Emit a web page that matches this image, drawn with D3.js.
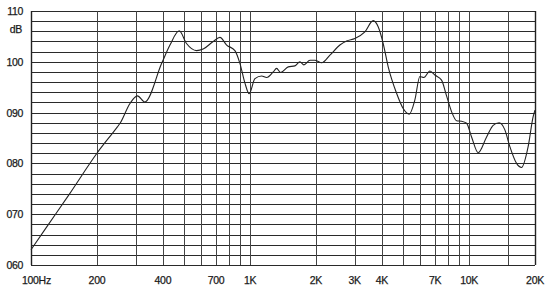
<!DOCTYPE html>
<html>
<head>
<meta charset="utf-8">
<style>
body { margin: 0; background: #fff; }
svg { display: block; }
.lbl { font-family: 'Liberation Sans', Arial, sans-serif; font-size: 10.5px; fill: #1a1a1a; stroke: #1a1a1a; stroke-width: 0.25px; letter-spacing: -0.3px; }
</style>
</head>
<body>
<svg width="550" height="291"></svg>
<script src="https://d3js.org/d3.v7.min.js"></script>
<script>

// ---------------------------------------------------------------
// DATA
// ---------------------------------------------------------------
var freq = [100, 118, 150, 200, 248, 255, 283, 306, 331, 395, 431, 475, 513,
            570, 611, 679, 729, 782, 853, 899, 948, 991, 1053, 1130, 1191, 1276,
            1322, 1380, 1494, 1603, 1690, 1762, 1877, 1977, 2123, 2316, 2572, 2760,
            3011, 3345, 3650, 3846, 4055, 4274, 4667, 5003, 5330, 5657, 5963, 6218,
            6622, 6981, 7489, 7894, 8317, 8770, 9243, 9741, 10267, 11003, 12024,
            12883, 13722, 14572, 15355, 16477, 17365, 18608, 19614, 20000];
var spl  = [63.0, 67.5, 74.0, 82.0, 87.2, 87.9, 91.8, 93.3, 92.1, 99.7, 103.3, 106.1, 103.6,
            102.2, 102.5, 104.0, 104.8, 103.3, 102.2, 99.7, 95.8, 93.7, 96.7, 97.2, 96.9, 98.0,
            98.7, 97.9, 99.0, 99.2, 100.0, 99.4, 100.3, 100.3, 99.8, 101.3, 103.3, 104.1,
            104.6, 105.9, 108.1, 106.9, 103.6, 99.0, 93.8, 90.8, 89.7, 92.5, 97.1, 96.9,
            98.2, 97.4, 96.4, 93.3, 90.2, 88.4, 88.3, 87.9, 85.2, 82.1, 85.2,
            87.5, 88.0, 86.6, 83.3, 80.0, 79.2, 83.3, 89.2, 90.5];

var gridFreqs = [100, 200, 300, 400, 500, 600, 700, 800, 900, 1000, 2000, 3000, 4000,
                 5000, 6000, 7000, 8000, 9000, 10000, 15000, 20000];
var xTickFreqs  = [100, 200, 400, 700, 1000, 2000, 3000, 4000, 7000, 10000, 20000];
var xTickLabels = ["100Hz", "200", "400", "700", "1K", "2K", "3K", "4K", "7K", "10K", "20K"];
var yTickValues = [110, 100, 90, 80, 70, 60];
var yTickLabels = ["110", "100", "090", "080", "070", "060"];

// ---------------------------------------------------------------
// SCALES
// ---------------------------------------------------------------
var svg = d3.select("svg");

var x = d3.scaleLog().domain([100, 20000]).range([31, 535]);
var y = d3.scaleLinear().domain([60, 110]).range([265, 11]);

// ---------------------------------------------------------------
// GRID
// ---------------------------------------------------------------
var grid = svg.append("g");

grid.selectAll("line.h")
    .data(d3.range(60, 111, 2))
  .enter().append("line")
    .attr("class", "h")
    .attr("x1", x(100)).attr("x2", x(20000))
    .attr("y1", function(d) { return Math.round(y(d)) + 0.5; })
    .attr("y2", function(d) { return Math.round(y(d)) + 0.5; })
    .attr("stroke", "#2a2a2a")
    .attr("stroke-width", 1.2);

grid.selectAll("line.v")
    .data(gridFreqs)
  .enter().append("line")
    .attr("class", "v")
    .attr("x1", function(d) { return Math.round(x(d)) + 0.5; })
    .attr("x2", function(d) { return Math.round(x(d)) + 0.5; })
    .attr("y1", y(110)).attr("y2", y(60))
    .attr("stroke", function(d) { return (d === 100 || d === 20000) ? "#222" : "#444"; })
    .attr("stroke-width", function(d) { return (d === 100 || d === 20000) ? 1.4 : 1; });

// ---------------------------------------------------------------
// LABELS
// ---------------------------------------------------------------
svg.selectAll("text.y")
    .data(yTickValues)
  .enter().append("text")
    .attr("class", "lbl y")
    .attr("x", 23)
    .attr("y", function(d) { return y(d) + 4; })
    .attr("text-anchor", "end")
    .text(function(d, i) { return yTickLabels[i]; });

svg.append("text")
    .attr("class", "lbl")
    .attr("x", 22).attr("y", 33)
    .attr("text-anchor", "end")
    .text("dB");

svg.selectAll("text.x")
    .data(xTickFreqs)
  .enter().append("text")
    .attr("class", "lbl x")
    .attr("x", function(d, i) { return i === 0 ? x(d) - 9 : x(d); })
    .attr("y", 284)
    .attr("text-anchor", function(d, i) { return i === 0 ? "start" : "middle"; })
    .text(function(d, i) { return xTickLabels[i]; });

// ---------------------------------------------------------------
// RESPONSE CURVE
// ---------------------------------------------------------------
var line = d3.line()
    .x(function(d) { return x(d[0]); })
    .y(function(d) { return y(d[1]); })
    .curve(d3.curveMonotoneX);

svg.append("path")
    .datum(d3.zip(freq, spl))
    .attr("d", line)
    .attr("fill", "none")
    .attr("stroke", "#222")
    .attr("stroke-width", 1.1);

</script>
</body>
</html>
